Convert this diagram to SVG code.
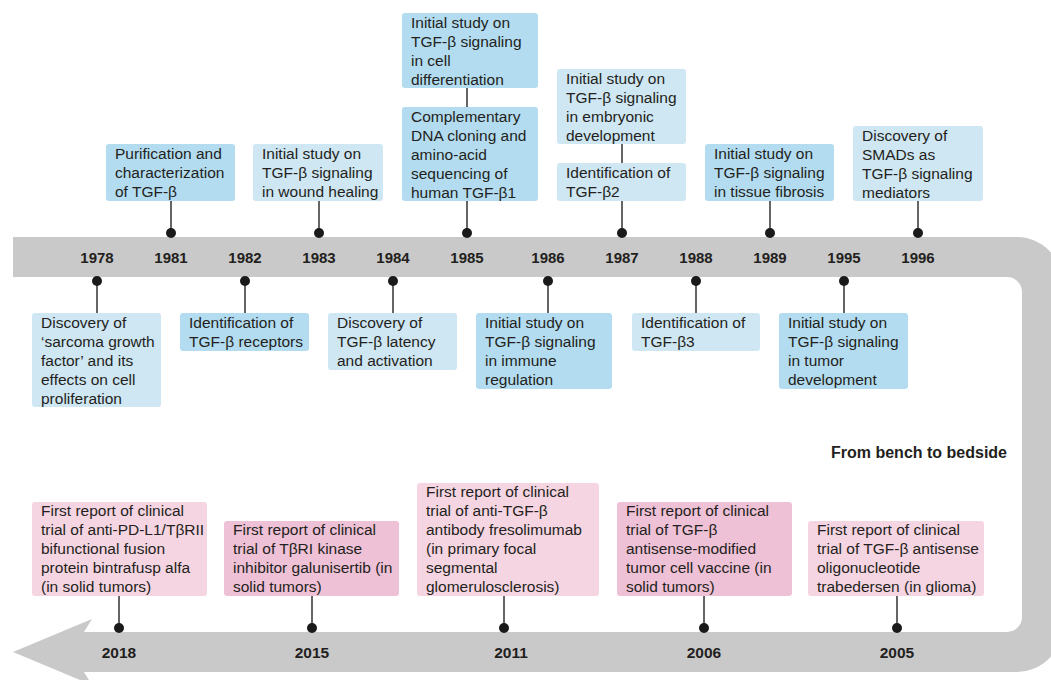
<svg xmlns="http://www.w3.org/2000/svg" width="1051" height="680" viewBox="0 0 1051 680">
<style>
.t{font-family:"Liberation Sans",Arial,sans-serif;font-size:15.5px;fill:#231f20}
.yr{font-family:"Liberation Sans",Arial,sans-serif;font-size:15px;font-weight:bold;fill:#231f20;text-anchor:middle}
.yr2{font-family:"Liberation Sans",Arial,sans-serif;font-size:15.5px;font-weight:bold;fill:#231f20;text-anchor:middle}
.bm{fill:#b3dcf0}
.bl{fill:#cfe6f3}
.pl{fill:#f6d5e2}
.pd{fill:#efc1d6}
.ln{stroke:#333;stroke-width:1.5;fill:none}
.dot{fill:#1a1a1a}
</style>
<rect width="1051" height="680" fill="#fff"/>
<path id="band" d="M84,632 L1007,632 A15,15 0 0 0 1022,617 L1022,292 A15,15 0 0 0 1007,277 L13,277 L13,237 L1017,237 A45,45 0 0 1 1062,282 L1062,627 A45,45 0 0 1 1017,672 L84,672 L92,685 L13,652 L92,619 Z" fill="#c9c9c9"/>
<g id="years">
<text class="yr" x="97" y="263">1978</text>
<text class="yr" x="171" y="263">1981</text>
<text class="yr" x="245" y="263">1982</text>
<text class="yr" x="319" y="263">1983</text>
<text class="yr" x="393" y="263">1984</text>
<text class="yr" x="467" y="263">1985</text>
<text class="yr" x="548" y="263">1986</text>
<text class="yr" x="622" y="263">1987</text>
<text class="yr" x="696" y="263">1988</text>
<text class="yr" x="770" y="263">1989</text>
<text class="yr" x="844" y="263">1995</text>
<text class="yr" x="918" y="263">1996</text>
<text class="yr2" x="119" y="658">2018</text>
<text class="yr2" x="312" y="658">2015</text>
<text class="yr2" x="511" y="658">2011</text>
<text class="yr2" x="704" y="658">2006</text>
<text class="yr2" x="897" y="658">2005</text>
</g>
<g id="connectors">
<path class="ln" d="M171,201V233M319,201V233M467,201V233M467,88V107M622,201V233M622,144V163M770,201V233M918,201V233"/>
<path class="ln" d="M97,281V313M245,281V313M393,281V313M548,281V313M696,281V313M844,281V313"/>
<path class="ln" d="M119,596V628M312,596V628M504,596V628M704,596V628M897,596V628"/>
<g class="dot">
<circle cx="171" cy="233" r="5"/><circle cx="319" cy="233" r="5"/><circle cx="467" cy="233" r="5"/><circle cx="622" cy="233" r="5"/><circle cx="770" cy="233" r="5"/><circle cx="918" cy="233" r="5"/>
<circle cx="97" cy="281" r="5"/><circle cx="245" cy="281" r="5"/><circle cx="393" cy="281" r="5"/><circle cx="548" cy="281" r="5"/><circle cx="696" cy="281" r="5"/><circle cx="844" cy="281" r="5"/>
<circle cx="119" cy="628" r="5"/><circle cx="312" cy="628" r="5"/><circle cx="504" cy="628" r="5"/><circle cx="704" cy="628" r="5"/><circle cx="897" cy="628" r="5"/>
</g>
</g>
<g id="n1981"><rect class="bm" x="106" y="144" width="129" height="57" rx="3"/><text class="t" x="115" y="158.5"><tspan x="115">Purification and</tspan><tspan x="115" dy="19">characterization</tspan><tspan x="115" dy="19">of TGF-β</tspan></text></g>
<g id="n1983"><rect class="bl" x="253" y="144" width="130" height="57" rx="3"/><text class="t" x="262" y="158.5"><tspan x="262">Initial study on</tspan><tspan x="262" dy="19">TGF-β signaling</tspan><tspan x="262" dy="19">in wound healing</tspan></text></g>
<g id="n1985a"><rect class="bm" x="402" y="13" width="136" height="75" rx="3"/><text class="t" x="411" y="27.5"><tspan x="411">Initial study on</tspan><tspan x="411" dy="19">TGF-β signaling</tspan><tspan x="411" dy="19">in cell</tspan><tspan x="411" dy="19">differentiation</tspan></text></g>
<g id="n1985b"><rect class="bm" x="402" y="107" width="136" height="94" rx="3"/><text class="t" x="411" y="121.5"><tspan x="411">Complementary</tspan><tspan x="411" dy="19">DNA cloning and</tspan><tspan x="411" dy="19">amino-acid</tspan><tspan x="411" dy="19">sequencing of</tspan><tspan x="411" dy="19">human TGF-β1</tspan></text></g>
<g id="n1987a"><rect class="bl" x="557" y="69" width="129" height="75" rx="3"/><text class="t" x="566" y="83.5"><tspan x="566">Initial study on</tspan><tspan x="566" dy="19">TGF-β signaling</tspan><tspan x="566" dy="19">in embryonic</tspan><tspan x="566" dy="19">development</tspan></text></g>
<g id="n1987b"><rect class="bl" x="557" y="163" width="129" height="38" rx="3"/><text class="t" x="566" y="177.5"><tspan x="566">Identification of</tspan><tspan x="566" dy="19">TGF-β2</tspan></text></g>
<g id="n1989"><rect class="bm" x="705" y="144" width="129" height="57" rx="3"/><text class="t" x="714" y="158.5"><tspan x="714">Initial study on</tspan><tspan x="714" dy="19">TGF-β signaling</tspan><tspan x="714" dy="19">in tissue fibrosis</tspan></text></g>
<g id="n1996"><rect class="bl" x="853" y="126" width="130" height="75" rx="3"/><text class="t" x="862" y="140.5"><tspan x="862">Discovery of</tspan><tspan x="862" dy="19">SMADs as</tspan><tspan x="862" dy="19">TGF-β signaling</tspan><tspan x="862" dy="19">mediators</tspan></text></g>
<g id="n1978"><rect class="bl" x="32" y="313" width="129" height="94" rx="3"/><text class="t" x="41" y="327.5"><tspan x="41">Discovery of</tspan><tspan x="41" dy="19">‘sarcoma growth</tspan><tspan x="41" dy="19">factor’ and its</tspan><tspan x="41" dy="19">effects on cell</tspan><tspan x="41" dy="19">proliferation</tspan></text></g>
<g id="n1982"><rect class="bm" x="180" y="313" width="129" height="38" rx="3"/><text class="t" x="189" y="327.5"><tspan x="189">Identification of</tspan><tspan x="189" dy="19">TGF-β receptors</tspan></text></g>
<g id="n1984"><rect class="bl" x="328" y="313" width="129" height="57" rx="3"/><text class="t" x="337" y="327.5"><tspan x="337">Discovery of</tspan><tspan x="337" dy="19">TGF-β latency</tspan><tspan x="337" dy="19">and activation</tspan></text></g>
<g id="n1986"><rect class="bm" x="476" y="313" width="136" height="76" rx="3"/><text class="t" x="485" y="327.5"><tspan x="485">Initial study on</tspan><tspan x="485" dy="19">TGF-β signaling</tspan><tspan x="485" dy="19">in immune</tspan><tspan x="485" dy="19">regulation</tspan></text></g>
<g id="n1988"><rect class="bl" x="632" y="313" width="128" height="38" rx="3"/><text class="t" x="641" y="327.5"><tspan x="641">Identification of</tspan><tspan x="641" dy="19">TGF-β3</tspan></text></g>
<g id="n1995"><rect class="bm" x="779" y="313" width="129" height="76" rx="3"/><text class="t" x="788" y="327.5"><tspan x="788">Initial study on</tspan><tspan x="788" dy="19">TGF-β signaling</tspan><tspan x="788" dy="19">in tumor</tspan><tspan x="788" dy="19">development</tspan></text></g>
<text id="bench" x="1007" y="458" font-family="Liberation Sans, Arial, sans-serif" font-size="16" font-weight="bold" fill="#231f20" text-anchor="end">From bench to bedside</text>
<g id="n2018"><rect class="pl" x="32" y="502" width="175" height="94" rx="3"/><text class="t" x="41" y="516"><tspan x="41">First report of clinical</tspan><tspan x="41" dy="19">trial of anti-PD-L1/TβRII</tspan><tspan x="41" dy="19">bifunctional fusion</tspan><tspan x="41" dy="19">protein bintrafusp alfa</tspan><tspan x="41" dy="19">(in solid tumors)</tspan></text></g>
<g id="n2015"><rect class="pd" x="224" y="521" width="175" height="75" rx="3"/><text class="t" x="233" y="535"><tspan x="233">First report of clinical</tspan><tspan x="233" dy="19">trial of TβRI kinase</tspan><tspan x="233" dy="19">inhibitor galunisertib (in</tspan><tspan x="233" dy="19">solid tumors)</tspan></text></g>
<g id="n2011"><rect class="pl" x="417" y="483" width="182" height="113" rx="3"/><text class="t" x="426" y="497"><tspan x="426">First report of clinical</tspan><tspan x="426" dy="19">trial of anti-TGF-β</tspan><tspan x="426" dy="19">antibody fresolimumab</tspan><tspan x="426" dy="19">(in primary focal</tspan><tspan x="426" dy="19">segmental</tspan><tspan x="426" dy="19">glomerulosclerosis)</tspan></text></g>
<g id="n2006"><rect class="pd" x="617" y="502" width="175" height="94" rx="3"/><text class="t" x="626" y="516"><tspan x="626">First report of clinical</tspan><tspan x="626" dy="19">trial of TGF-β</tspan><tspan x="626" dy="19">antisense-modified</tspan><tspan x="626" dy="19">tumor cell vaccine (in</tspan><tspan x="626" dy="19">solid tumors)</tspan></text></g>
<g id="n2005"><rect class="pl" x="808" y="521" width="176" height="75" rx="3"/><text class="t" x="817" y="535"><tspan x="817">First report of clinical</tspan><tspan x="817" dy="19">trial of TGF-β antisense</tspan><tspan x="817" dy="19">oligonucleotide</tspan><tspan x="817" dy="19">trabedersen (in glioma)</tspan></text></g>
</svg>
